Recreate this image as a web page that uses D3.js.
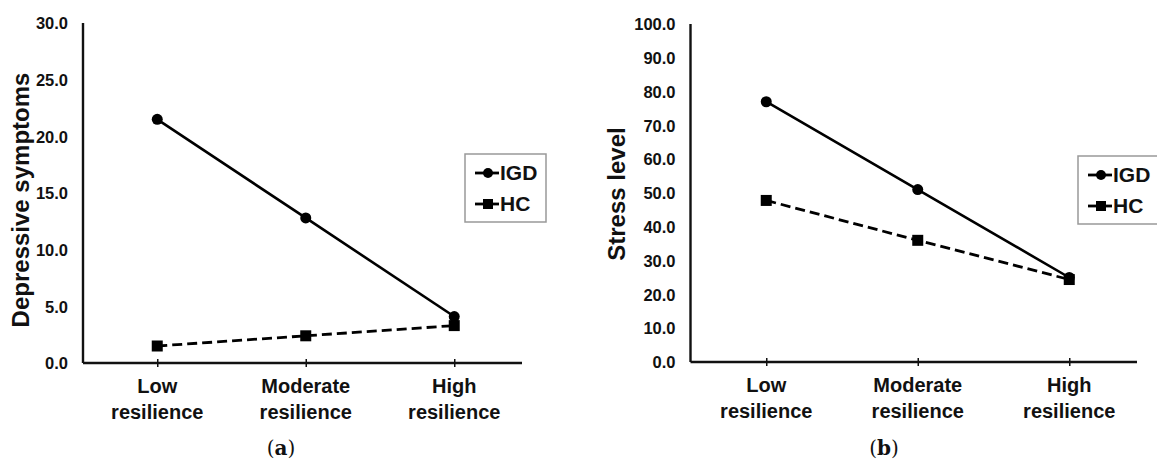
<!DOCTYPE html>
<html lang="en">
<head>
  <meta charset="UTF-8">
  <script src="https://cdn.jsdelivr.net/npm/d3@7"></script>
  <style>
    body { margin: 0; background: #fff; }
    text { font-family: "Liberation Sans", Arial, sans-serif; font-weight: bold; fill: #111; }
    .caption { font-family: "DejaVu Serif", "Liberation Serif", serif; font-weight: normal; }
  </style>
</head>
<body>
<svg></svg>
<script>
  // data
  var categories = ["Low resilience", "Moderate resilience", "High resilience"];
  var seriesNames = ["IGD", "HC"];
  var depressIGD = [21.5, 12.8, 4.1];
  var depressHC = [1.5, 2.4, 3.3];
  var stressIGD = [77.0, 51.0, 25.0];
  var stressHC = [47.8, 36.0, 24.4];
  var depressTicks = [0, 5, 10, 15, 20, 25, 30];
  var stressTicks = [0, 10, 20, 30, 40, 50, 60, 70, 80, 90, 100];

  var svg = d3.select("svg").attr("width", 1157).attr("height", 462);

  function drawPanel(p) {
    var g = svg.append("g");

    var x = d3.scalePoint().domain(categories)
      .range([p.left, p.left + p.step * 3]).padding(0.5);
    var y = d3.scaleLinear().domain([0, p.max]).range([p.bottom, p.top]);

    // y axis: labels only, plus the line
    var yAxis = d3.axisLeft(y).tickValues(p.ticks).tickFormat(d3.format(".1f"))
      .tickSize(0).tickPadding(15);
    var ya = g.append("g").attr("transform", "translate(" + p.left + ",0)").call(yAxis);
    ya.select(".domain").remove();
    ya.selectAll("text").style("font-size", "16.5px").attr("dy", "0.35em");

    g.append("line")
      .attr("x1", p.left).attr("x2", p.left)
      .attr("y1", p.top).attr("y2", p.bottom)
      .attr("stroke", "#111").attr("stroke-width", 2.4);

    // x axis
    var xAxis = d3.axisBottom(x).tickSize(8).tickFormat("");
    var xa = g.append("g").attr("transform", "translate(0," + (p.bottom - 4) + ")").call(xAxis);
    xa.select(".domain").remove();
    xa.selectAll("line").attr("stroke", "#111").attr("stroke-width", 1.5);

    g.append("line")
      .attr("x1", p.left).attr("x2", p.axisEnd)
      .attr("y1", p.bottom).attr("y2", p.bottom)
      .attr("stroke", "#111").attr("stroke-width", 2.4);

    // two-line category labels
    categories.forEach(function(c) {
      var words = c.split(" ");
      var t = g.append("text")
        .attr("text-anchor", "middle")
        .style("font-size", "20px");
      words.forEach(function(w, i) {
        t.append("tspan").attr("x", x(c)).attr("y", p.bottom + 30 + i * 26).text(w);
      });
    });

    // axis title
    g.append("text")
      .attr("transform", "translate(" + p.titleX + "," + p.titleY + ") rotate(-90)")
      .attr("text-anchor", "middle")
      .attr("dy", "0.35em")
      .style("font-size", "24px")
      .text(p.title);

    // lines
    var line = d3.line().x(function(d, i) { return x(categories[i]); }).y(function(d) { return y(d); });

    g.append("path").datum(p.hc)
      .attr("d", line).attr("fill", "none")
      .attr("stroke", "#000").attr("stroke-width", 2.8)
      .attr("stroke-dasharray", "10,5");

    g.append("path").datum(p.igd)
      .attr("d", line).attr("fill", "none")
      .attr("stroke", "#000").attr("stroke-width", 2.6);

    g.selectAll(".sq").data(p.hc).enter().append("rect")
      .attr("x", function(d, i) { return x(categories[i]) - 5.5; })
      .attr("y", function(d) { return y(d) - 5.5; })
      .attr("width", 11).attr("height", 11).attr("fill", "#000");

    g.selectAll(".dot").data(p.igd).enter().append("circle")
      .attr("cx", function(d, i) { return x(categories[i]); })
      .attr("cy", function(d) { return y(d); })
      .attr("r", 5.5).attr("fill", "#000");

    // legend
    var lg = g.append("g").attr("transform", "translate(" + p.legX + "," + p.legY + ")");
    lg.append("rect").attr("width", 81).attr("height", 68)
      .attr("fill", "#fff").attr("stroke", "#999").attr("stroke-width", 1.5);
    seriesNames.forEach(function(s, i) {
      var yy = 19 + i * 31;
      lg.append("line").attr("x1", 10).attr("x2", 34).attr("y1", yy).attr("y2", yy)
        .attr("stroke", "#000").attr("stroke-width", 2.8);
      if (i === 0) {
        lg.append("circle").attr("cx", 23).attr("cy", yy).attr("r", 5).attr("fill", "#000");
      } else {
        lg.append("rect").attr("x", 18).attr("y", yy - 5).attr("width", 10).attr("height", 10).attr("fill", "#000");
      }
      lg.append("text").attr("x", 35).attr("y", yy).attr("dy", "0.35em")
        .style("font-size", "21px").text(s);
    });

    // panel caption
    var cap = g.append("text").attr("class", "caption")
      .attr("x", p.capX).attr("y", 455)
      .attr("text-anchor", "middle").style("font-size", "20px");
    cap.append("tspan").text("(");
    cap.append("tspan").style("font-weight", "bold").text(p.letter);
    cap.append("tspan").text(")");
  }

  drawPanel({
    left: 83, step: 148.5, axisEnd: 522, top: 23, bottom: 363, max: 30,
    ticks: depressTicks, igd: depressIGD, hc: depressHC,
    title: "Depressive symptoms", titleX: 21, titleY: 200,
    legX: 465, legY: 154, capX: 281, letter: "a"
  });

  drawPanel({
    left: 690.5, step: 151.5, axisEnd: 1137, top: 24, bottom: 362, max: 100,
    ticks: stressTicks, igd: stressIGD, hc: stressHC,
    title: "Stress level", titleX: 617, titleY: 194,
    legX: 1078, legY: 156, capX: 884, letter: "b"
  });
</script>
</body>
</html>
